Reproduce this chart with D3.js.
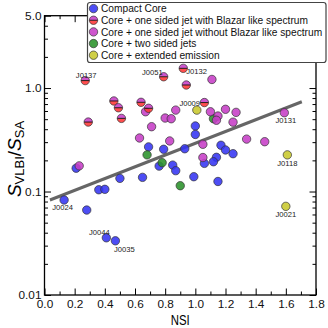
<!DOCTYPE html>
<html>
<head>
<meta charset="UTF-8">
<title>S_VLBI / S_SA vs NSI</title>
<script src="https://cdn.jsdelivr.net/npm/d3@7"></script>
<style>
  body { margin: 0; background: #fff; }
  text { font-family: "Liberation Sans", Arial, sans-serif; }
</style>
</head>
<body>
<script>
var w = 328;
var h = 328;

var margin = { top: 15.7, left: 44.5, right: 12, bottom: 33 };
var width = w - margin.left - margin.right;
var height = h - margin.top - margin.bottom;

// legend order
var categories = [
  "Compact Core",
  "Core + one sided jet with Blazar like spectrum",
  "Core + one sided jet without Blazar like spectrum",
  "Core + two sided jets",
  "Core + extended emission"
];

var compactNSI   = [0.69, 0.79, 0.93, 1.00, 1.00, 1.17, 1.20, 1.25, 1.14, 1.12, 1.06, 0.76, 0.85, 0.87, 0.65, 0.99, 1.15, 0.21, 0.50, 0.36, 0.40, 0.13, 0.28, 0.41, 0.47];
var compactRatio = [0.270, 0.256, 0.259, 0.430, 0.356, 0.280, 0.252, 0.232, 0.214, 0.194, 0.187, 0.176, 0.180, 0.159, 0.137, 0.139, 0.125, 0.168, 0.134, 0.104, 0.105, 0.0828, 0.0662, 0.0357, 0.0334];

var blazarNSI   = [0.27, 0.46, 0.49, 0.51, 0.29, 0.64, 0.69, 0.79, 0.92, 0.94, 1.06];
var blazarRatio = [1.18, 0.75, 0.645, 0.509, 0.469, 0.728, 0.637, 1.285, 1.55, 1.07, 0.724];

var oneSidedNSI   = [0.67, 0.71, 0.63, 0.80, 0.84, 0.87, 1.11, 1.10, 1.15, 1.14, 1.20, 1.27, 1.25, 1.34, 1.46, 1.59, 0.83, 1.05, 1.05, 0.23];
var oneSidedRatio = [0.590, 0.423, 0.329, 0.513, 0.505, 0.612, 1.21, 0.590, 0.536, 0.488, 0.623, 0.582, 0.468, 0.321, 0.303, 0.577, 0.308, 0.286, 0.213, 0.177];

var twoSidedNSI   = [0.68, 1.12, 0.78, 0.90];
var twoSidedRatio = [0.226, 0.505, 0.190, 0.1138];

var extendedNSI   = [1.01, 1.61, 1.60];
var extendedRatio = [0.612, 0.226, 0.0719];

// straight line fit in log space, end points
var fitNSI   = [0.036, 1.706];
var fitRatio = [0.0828, 0.737];

var labelNames = ["J0137", "J0051", "J0132", "J0009", "J0131", "J0118", "J0021", "J0024", "J0044", "J0035"];
var labelNSI   = [0.27, 0.79, 0.92, 1.06, 1.59, 1.61, 1.60, 0.13, 0.41, 0.47];
var labelRatio = [1.18, 1.285, 1.55, 0.724, 0.577, 0.226, 0.0719, 0.0828, 0.0357, 0.0334];

var xTicks = [0, 0.2, 0.4, 0.6, 0.8, 1.0, 1.2, 1.4, 1.6, 1.8];
var xTickLabels = ["0.0", "0.2", "0.4", "0.6", "0.8", "1.0", "1.2", "1.4", "1.6", "1.8"];
var yTicks = [0.01, 0.1, 1, 5];
var yTickLabels = ["0.01", "0.1", "1.0", "5.0"];

var colors = {
  blue: "#3434f2",
  red: "#ff3535",
  magenta: "#c63ec6",
  green: "#2a922a",
  yellow: "#c8c82c"
};

// where each source name sits relative to its marker
var labelPlace = {
  J0137: { anchor: "middle", dx: 1, dy: -2.8 },
  J0051: { anchor: "end", dx: -1, dy: -2 },
  J0132: { anchor: "start", dx: 3, dy: 5.7 },
  J0009: { anchor: "end", dx: -4.3, dy: 3.9 },
  J0131: { anchor: "middle", dx: 1.5, dy: 10 },
  J0118: { anchor: "middle", dx: 0, dy: 11 },
  J0021: { anchor: "middle", dx: 0, dy: 10.3 },
  J0024: { anchor: "middle", dx: -1.5, dy: 10 },
  J0044: { anchor: "middle", dx: -7, dy: -2.8 },
  J0035: { anchor: "middle", dx: 9, dy: 11.2 }
};

var x = d3.scaleLinear().domain([0, 1.8]).range([0, width]);
var y = d3.scaleLog().domain([0.01, 5]).range([height, 0]);

var svg = d3.select("body").append("svg")
  .attr("width", w)
  .attr("height", h);

var chart = svg.append("g")
  .attr("transform", "translate(" + margin.left + "," + margin.top + ")");

// minor tick positions
var xMinor = d3.range(0.1, 1.8, 0.2);
var yMinor = [];
[0.01, 0.1, 1].forEach(function(dec) {
  for (var k = 2; k <= 9; k++) {
    if (dec * k < 5) yMinor.push(dec * k);
  }
});

function drawAxis(axis, minor, cls, tr) {
  var g = chart.append("g").attr("class", cls).attr("transform", tr);
  g.call(axis);
  g.select(".domain").remove();
  g.selectAll("line").attr("stroke", "#000").attr("stroke-width", 1);
  g.selectAll("text").attr("font-size", "11.8px").attr("fill", "#111")
    .attr("font-family", "Liberation Sans, Arial, sans-serif");
  var m = chart.append("g").attr("transform", tr);
  m.call(minor);
  m.select(".domain").remove();
  m.selectAll("text").remove();
  m.selectAll("line").attr("stroke", "#000").attr("stroke-width", 1);
}

drawAxis(
  d3.axisBottom(x).tickValues(xTicks).tickFormat(function(d, i) { return xTickLabels[i]; }).tickSize(-6.5).tickPadding(4.3),
  d3.axisBottom(x).tickValues(xMinor).tickSize(-3.5),
  "x-axis", "translate(0," + height + ")");
drawAxis(
  d3.axisTop(x).tickValues(xTicks).tickFormat("").tickSize(-6.5),
  d3.axisTop(x).tickValues(xMinor).tickSize(-3.5),
  "x-top", "translate(0,0)");
drawAxis(
  d3.axisLeft(y).tickValues(yTicks).tickFormat(function(d, i) { return yTickLabels[i]; }).tickSize(-6.5).tickPadding(3),
  d3.axisLeft(y).tickValues(yMinor).tickSize(-3.5),
  "y-axis", "translate(0,0)");
drawAxis(
  d3.axisRight(y).tickValues(yTicks).tickFormat("").tickSize(-6.5),
  d3.axisRight(y).tickValues(yMinor).tickSize(-3.5),
  "y-right", "translate(" + width + ",0)");

// fit line (under the markers)
var line = d3.line()
  .x(function(d) { return x(d[0]); })
  .y(function(d) { return y(d[1]); });

chart.append("path")
  .datum(d3.zip(fitNSI, fitRatio))
  .attr("d", line)
  .attr("fill", "none")
  .attr("stroke", "#666")
  .attr("stroke-width", 3);

var r = 4.2;

function plainMarkers(nsi, ratio, color) {
  chart.append("g").selectAll("circle")
    .data(d3.zip(nsi, ratio))
    .enter()
    .append("circle")
    .attr("cx", function(d) { return x(d[0]); })
    .attr("cy", function(d) { return y(d[1]); })
    .attr("r", r)
    .attr("fill", color)
    .attr("fill-opacity", 0.88)
    .attr("stroke", "#333")
    .attr("stroke-width", 0.7);
}

function halfMarker(g) {
  g.append("path")
    .attr("d", "M" + (-r) + ",0A" + r + "," + r + " 0 0 1 " + r + ",0Z")
    .attr("fill", colors.magenta).attr("fill-opacity", 0.88);
  g.append("path")
    .attr("d", "M" + (-r) + ",0A" + r + "," + r + " 0 0 0 " + r + ",0Z")
    .attr("fill", colors.red).attr("fill-opacity", 0.88);
  g.append("line")
    .attr("x1", -r).attr("x2", r).attr("y1", 0).attr("y2", 0)
    .attr("stroke", "#111").attr("stroke-width", 0.9);
  g.append("circle")
    .attr("r", r).attr("fill", "none")
    .attr("stroke", "#333").attr("stroke-width", 0.7);
}

plainMarkers(compactNSI, compactRatio, colors.blue);
plainMarkers(twoSidedNSI, twoSidedRatio, colors.green);
plainMarkers(oneSidedNSI, oneSidedRatio, colors.magenta);

chart.append("g").selectAll("g")
  .data(d3.zip(blazarNSI, blazarRatio))
  .enter()
  .append("g")
  .attr("transform", function(d) { return "translate(" + x(d[0]) + "," + y(d[1]) + ")"; })
  .each(function() { halfMarker(d3.select(this)); });

plainMarkers(extendedNSI, extendedRatio, colors.yellow);

// source names
chart.append("g").selectAll("text")
  .data(labelNames)
  .enter()
  .append("text")
  .attr("x", function(d, i) { return x(labelNSI[i]) + labelPlace[d].dx; })
  .attr("y", function(d, i) { return y(labelRatio[i]) + labelPlace[d].dy; })
  .attr("text-anchor", function(d) { return labelPlace[d].anchor; })
  .attr("font-family", "DejaVu Sans, sans-serif")
  .attr("font-size", "7.6px")
  .attr("fill", "#222")
  .text(function(d) { return d; });

// frame
chart.append("rect")
  .attr("width", width)
  .attr("height", height)
  .attr("fill", "none")
  .attr("stroke", "#000")
  .attr("stroke-width", 1.3);

// axis titles
svg.append("text")
  .attr("x", margin.left + width / 2)
  .attr("y", 324.5)
  .attr("text-anchor", "middle")
  .attr("font-size", "14px")
  .attr("textLength", 19)
  .attr("lengthAdjust", "spacingAndGlyphs")
  .text("NSI");

var yl = svg.append("text")
  .attr("transform", "translate(21,159) rotate(-90)")
  .attr("text-anchor", "middle")
  .attr("font-family", "Liberation Serif, DejaVu Serif, serif")
  .attr("font-size", "19px");
yl.append("tspan").attr("font-style", "italic").text("S");
yl.append("tspan").attr("font-size", "13px").attr("dy", 3).text("VLBI");
yl.append("tspan").attr("dy", -3).text("/");
yl.append("tspan").attr("font-style", "italic").text("S");
yl.append("tspan").attr("font-size", "13px").attr("dy", 3).text("SA");

// legend
var legend = svg.append("g");
legend.append("rect")
  .attr("x", 87.5).attr("y", 2.5)
  .attr("width", 238.5).attr("height", 60)
  .attr("rx", 2.5)
  .attr("fill", "#fff")
  .attr("stroke", "#444")
  .attr("stroke-width", 1.2);

var rowColors = [colors.blue, null, colors.magenta, colors.green, colors.yellow];
var rows = legend.selectAll(".row")
  .data(categories)
  .enter()
  .append("g")
  .attr("class", "row")
  .attr("transform", function(d, i) { return "translate(93.5," + (8.6 + i * 11.65) + ")"; });

rows.each(function(d, i) {
  var g = d3.select(this);
  if (rowColors[i]) {
    g.append("circle").attr("r", r)
      .attr("fill", rowColors[i]).attr("fill-opacity", 0.88)
      .attr("stroke", "#333").attr("stroke-width", 0.7);
  } else {
    halfMarker(g);
  }
});

rows.append("text")
  .attr("x", 7.5)
  .attr("y", 3.6)
  .attr("font-size", "10.2px")
  .attr("fill", "#111")
  .text(function(d) { return d; });
</script>
</body>
</html>
